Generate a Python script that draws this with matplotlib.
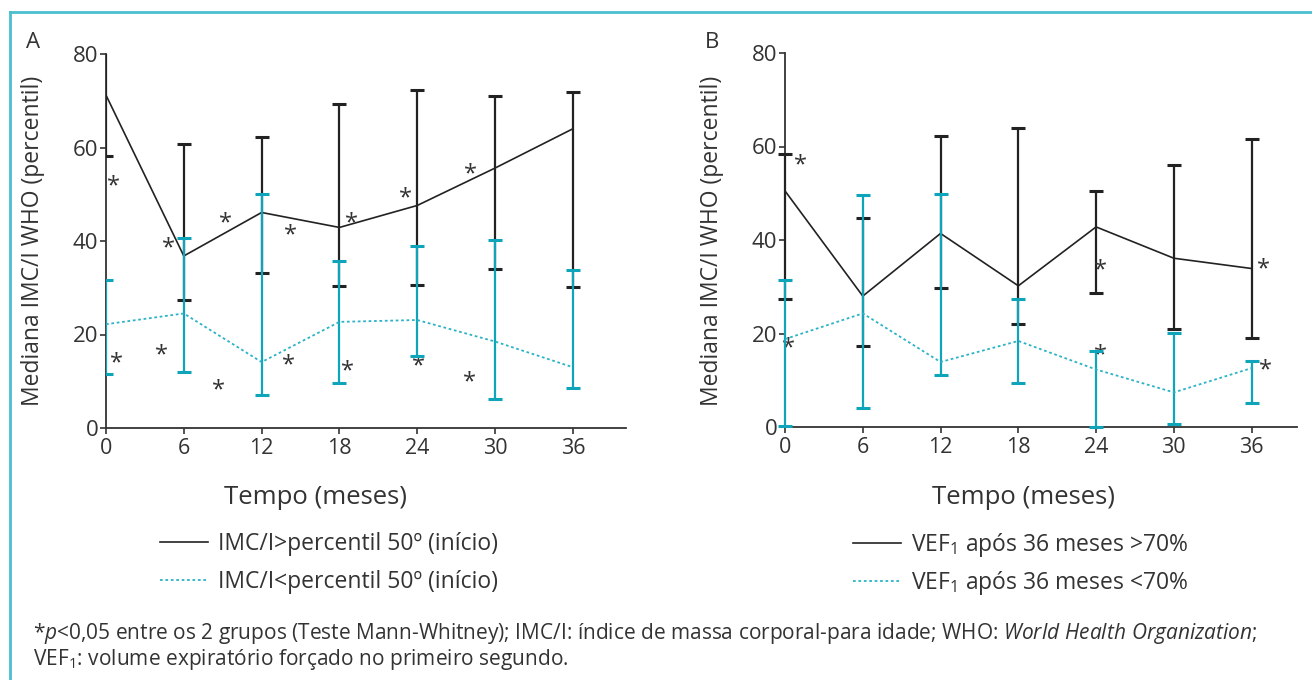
import matplotlib
matplotlib.use("Agg")
import matplotlib.pyplot as plt
import matplotlib.transforms as mtransforms
from matplotlib.lines import Line2D

plt.rcParams['font.family'] = ['Open Sans', 'DejaVu Sans']
plt.rcParams['mathtext.fontset'] = 'custom'
plt.rcParams['mathtext.rm'] = 'Open Sans'
plt.rcParams['mathtext.it'] = 'Open Sans:italic'
plt.rcParams['text.color'] = '#333333'

# dados
tempo = [0, 6, 12, 18, 24, 30, 36]
x_ticks = [0, 6, 12, 18, 24, 30, 36]
y_ticks = [0, 20, 40, 60, 80]

# painel A: IMC/I
a_acima_med = [71.2, 36.8, 46.1, 42.9, 47.6, 55.6, 64.0]
a_acima_low = [58.2, 27.4, 33.2, 30.4, 30.6, 34.0, 30.2]
a_acima_high = [84.0, 60.7, 62.2, 69.4, 72.3, 71.0, 71.9]
a_abaixo_med = [22.2, 24.5, 14.1, 22.7, 23.1, 18.5, 13.0]
a_abaixo_low = [11.6, 12.0, 7.1, 9.7, 15.5, 6.1, 8.6]
a_abaixo_high = [31.7, 40.6, 50.1, 35.8, 38.9, 40.3, 33.9]
a_ast_x = [0.6, 4.8, 9.2, 14.2, 18.9, 23.1, 28.1, 0.8, 4.3, 8.7, 14.1, 18.6, 24.1, 28.0]
a_ast_y = [53.2, 40.0, 45.2, 42.6, 45.2, 50.5, 55.8, 15.3, 17.0, 9.6, 14.9, 13.5, 14.7, 11.3]

# painel B: VEF1
b_acima_med = [50.5, 28.0, 41.4, 30.2, 42.8, 36.1, 33.9]
b_acima_low = [27.4, 17.4, 29.8, 22.1, 28.7, 21.0, 19.1]
b_acima_high = [58.4, 44.8, 62.3, 64.0, 50.5, 56.1, 61.6]
b_abaixo_med = [18.8, 24.3, 13.9, 18.4, 12.3, 7.4, 12.6]
b_abaixo_low = [0.2, 4.1, 11.1, 9.4, 0.0, 0.6, 5.1]
b_abaixo_high = [31.5, 49.6, 49.9, 27.4, 16.3, 20.1, 14.1]
b_ast_x = [1.2, 0.25, 24.3, 24.3, 36.9, 37.1]
b_ast_y = [57.5, 18.2, 34.9, 16.8, 35.1, 13.6]

leg_a = ['IMC/I>percentil 50º (início)', 'IMC/I<percentil 50º (início)']
leg_b = ['VEF$_1$ após 36 meses >70%', 'VEF$_1$ após 36 meses <70%']

PRETO = '#222222'
CIANO = '#0ea5bb'
CIANO_LINHA = '#2ab3c6'
CINZA = '#333333'

W, H = 1312, 680
fig = plt.figure(figsize=(W / 100, H / 100), dpi=100)


def errs(med, low, high):
    return [[m - l for m, l in zip(med, low)], [h - m for m, h in zip(med, high)]]


def painel(rect, xmax, med1, low1, high1, med2, low2, high2, ast_x, ast_y, clip):
    ax = fig.add_axes(rect)
    e1 = ax.errorbar(tempo, med1, yerr=errs(med1, low1, high1), color=PRETO, lw=1.2,
                     elinewidth=1.6, capsize=5, capthick=2.2, zorder=3)
    e2 = ax.errorbar(tempo, med2, yerr=errs(med2, low2, high2), color=CIANO_LINHA, ls=(0, (1.5, 1.5)),
                     lw=1.3, ecolor=CIANO, elinewidth=1.6, capsize=5, capthick=2.2, zorder=4)
    for e in (e1, e2):
        for art in list(e.lines[1]) + list(e.lines[2]):
            art.set_clip_on(clip)
    off = mtransforms.offset_copy(ax.transData, fig=fig, x=0, y=-5, units='points')
    for x, y in zip(ast_x, ast_y):
        ax.text(x, y, '*', ha='center', va='center', fontsize=17, color=CINZA, transform=off)
    ax.set_xlim(0, xmax)
    ax.set_ylim(0, 80)
    ax.set_xticks(x_ticks)
    ax.set_yticks(y_ticks)
    ax.spines['top'].set_visible(False)
    ax.spines['right'].set_visible(False)
    for s in ('left', 'bottom'):
        ax.spines[s].set_color(CINZA)
        ax.spines[s].set_linewidth(1.3)
    ax.tick_params(axis='both', direction='out', length=4.5, width=1.2, color=CINZA,
                   labelcolor=CINZA)
    ax.tick_params(axis='y', labelsize=16, pad=1)
    ax.tick_params(axis='x', labelsize=15.5, pad=3)
    return ax


ax_a = painel([106 / W, 1 - 428 / H, 520 / W, 374 / H], 40.1,
              a_acima_med, a_acima_low, a_acima_high,
              a_abaixo_med, a_abaixo_low, a_abaixo_high, a_ast_x, a_ast_y, True)
ax_b = painel([785 / W, 1 - 427 / H, 512 / W, 374 / H], 39.5,
              b_acima_med, b_acima_low, b_acima_high,
              b_abaixo_med, b_abaixo_low, b_abaixo_high, b_ast_x, b_ast_y, False)

# rótulos
for ax, letra, lx_letra, xt, lx, sp, top in ((ax_a, 'A', 33, 315, 160, 0.62, 532),
                                             (ax_b, 'B', 712, 1023, 853, 0.42, 531)):
    fig.text(lx_letra / W, 1 - 42 / H, letra, fontsize=16,
             ha='center', va='center', color=CINZA)
    fig.text(lx_letra / W, 1 - 241 / H, 'Mediana IMC/I WHO (percentil)', rotation=90,
             fontsize=16.5, ha='center', va='center', color=CINZA)
    fig.text(xt / W, 1 - 497 / H, 'Tempo (meses)', fontsize=18.5, ha='center',
             va='center', color=CINZA)
    handles = [Line2D([], [], color=PRETO, lw=1.2),
               Line2D([], [], color=CIANO_LINHA, lw=1.3, ls=(0, (1.5, 1.5)))]
    ax.legend(handles, leg_a if letra == 'A' else leg_b, loc='upper left',
              bbox_to_anchor=(lx / W, 1 - top / H), bbox_transform=fig.transFigure,
              frameon=False, fontsize=16.5, handlelength=2.1, handletextpad=0.45,
              labelspacing=sp, borderpad=0, borderaxespad=0, labelcolor=CINZA)

# nota de rodapé
fig.text(33 / W, 1 - 633 / H,
         r'*$\mathit{p}$<0,05 entre os 2 grupos (Teste Mann-Whitney); IMC/I: índice de massa '
         r'corporal-para idade; WHO: $\mathit{World\ Health\ Organization}$;',
         fontsize=15, ha='left', va='center', color=CINZA)
fig.text(33 / W, 1 - 659 / H, 'VEF$_1$: volume expiratório forçado no primeiro segundo.',
         fontsize=15, ha='left', va='center', color=CINZA)

# moldura
fig.add_artist(Line2D([10 / W, 10 / W], [0, 1 - 12 / H], color='#4bbfcf', lw=2))
fig.add_artist(Line2D([10 / W, 1], [1 - 12 / H, 1 - 12 / H], color='#4bbfcf', lw=2))

fig.savefig('out.png', dpi=100)
